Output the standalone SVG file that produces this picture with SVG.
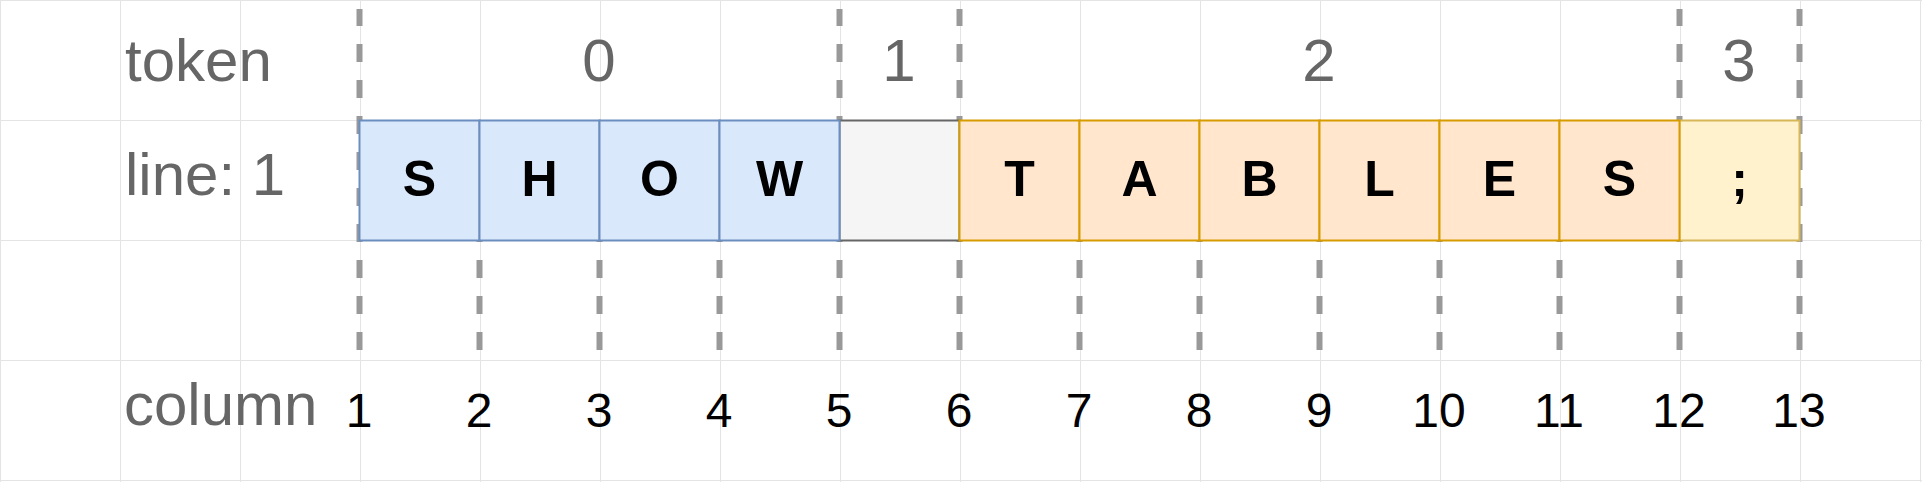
<svg xmlns="http://www.w3.org/2000/svg" width="1922" height="482" viewBox="0 0 1922 482">
<defs>
<pattern id="minor" width="30" height="30" patternUnits="userSpaceOnUse">
<path d="M30.5 0V30M0 30.5H30" fill="none" stroke="#f0f0f0" stroke-width="1"/>
</pattern>
<pattern id="major" width="120" height="120" patternUnits="userSpaceOnUse">
<path d="M0.5 0V120M0 0.5H120" fill="none" stroke="#e4e4e4" stroke-width="1"/>
</pattern>
</defs>
<style>
.lbl{font-family:"Liberation Sans",Arial,sans-serif;font-size:60px;fill:#666666}
.tok{font-family:"Liberation Sans",Arial,sans-serif;font-size:60px;fill:#666666;text-anchor:middle}
.col{font-family:"Liberation Sans",Arial,sans-serif;font-size:48px;fill:#000000;text-anchor:middle}
.ch{font-family:"Liberation Sans",Arial,sans-serif;font-size:50px;font-weight:bold;fill:#000000;text-anchor:middle}
.dash{stroke:#999999;stroke-width:6;stroke-dasharray:18 18;fill:none}
.blue{fill:#dae8fc;stroke:#6c8ebf;stroke-width:2}
.gray{fill:#f5f5f5;stroke:#666666;stroke-width:2}
.orange{fill:#ffe6cc;stroke:#d79b00;stroke-width:2}
.yellow{fill:#fff2cc;stroke:#d6b656;stroke-width:2}
</style>
<rect width="1922" height="482" fill="#ffffff"/>
<rect width="1922" height="482" fill="url(#minor)"/>
<rect width="1922" height="482" fill="url(#major)"/>
<g id="connectors">
<line class="dash" x1="359.5" y1="350" x2="359.5" y2="9"/>
<line class="dash" x1="839.5" y1="350" x2="839.5" y2="9"/>
<line class="dash" x1="959.5" y1="350" x2="959.5" y2="9"/>
<line class="dash" x1="1679.5" y1="350" x2="1679.5" y2="9"/>
<line class="dash" x1="1799.5" y1="350" x2="1799.5" y2="9"/>
<line class="dash" x1="479.5" y1="350" x2="479.5" y2="130"/>
<line class="dash" x1="599.5" y1="350" x2="599.5" y2="130"/>
<line class="dash" x1="719.5" y1="350" x2="719.5" y2="130"/>
<line class="dash" x1="1079.5" y1="350" x2="1079.5" y2="130"/>
<line class="dash" x1="1199.5" y1="350" x2="1199.5" y2="130"/>
<line class="dash" x1="1319.5" y1="350" x2="1319.5" y2="130"/>
<line class="dash" x1="1439.5" y1="350" x2="1439.5" y2="130"/>
<line class="dash" x1="1559.5" y1="350" x2="1559.5" y2="130"/>
</g>
<g id="labels">
<text class="lbl" x="125" y="81">token</text>
<text class="lbl" x="125" y="195">line: 1</text>
<text class="lbl" x="124" y="425">column</text>
</g>
<g id="tokens">
<text class="tok" x="599" y="81">0</text>
<text class="tok" x="899" y="81">1</text>
<text class="tok" x="1319" y="81">2</text>
<text class="tok" x="1739" y="81">3</text>
</g>
<g id="cell-space"><rect class="gray" x="839.5" y="120.5" width="120" height="120"/></g>
<g id="cell-semicolon"><rect class="yellow" x="1679.5" y="120.5" width="120" height="120"/><text class="ch" x="1739.5" y="196">;</text></g>
<g id="cell-S1"><rect class="blue" x="359.5" y="120.5" width="120" height="120"/><text class="ch" x="419.5" y="196">S</text></g>
<g id="cell-H"><rect class="blue" x="479.5" y="120.5" width="120" height="120"/><text class="ch" x="539.5" y="196">H</text></g>
<g id="cell-O"><rect class="blue" x="599.5" y="120.5" width="120" height="120"/><text class="ch" x="659.5" y="196">O</text></g>
<g id="cell-W"><rect class="blue" x="719.5" y="120.5" width="120" height="120"/><text class="ch" x="779.5" y="196">W</text></g>
<g id="cell-T"><rect class="orange" x="959.5" y="120.5" width="120" height="120"/><text class="ch" x="1019.5" y="196">T</text></g>
<g id="cell-A"><rect class="orange" x="1079.5" y="120.5" width="120" height="120"/><text class="ch" x="1139.5" y="196">A</text></g>
<g id="cell-B"><rect class="orange" x="1199.5" y="120.5" width="120" height="120"/><text class="ch" x="1259.5" y="196">B</text></g>
<g id="cell-L"><rect class="orange" x="1319.5" y="120.5" width="120" height="120"/><text class="ch" x="1379.5" y="196">L</text></g>
<g id="cell-E"><rect class="orange" x="1439.5" y="120.5" width="120" height="120"/><text class="ch" x="1499.5" y="196">E</text></g>
<g id="cell-S2"><rect class="orange" x="1559.5" y="120.5" width="120" height="120"/><text class="ch" x="1619.5" y="196">S</text></g>
<g id="columns">
<text class="col" x="359" y="427">1</text>
<text class="col" x="479" y="427">2</text>
<text class="col" x="599" y="427">3</text>
<text class="col" x="719" y="427">4</text>
<text class="col" x="839" y="427">5</text>
<text class="col" x="959" y="427">6</text>
<text class="col" x="1079" y="427">7</text>
<text class="col" x="1199" y="427">8</text>
<text class="col" x="1319" y="427">9</text>
<text class="col" x="1439" y="427">10</text>
<text class="col" x="1559" y="427">11</text>
<text class="col" x="1679" y="427">12</text>
<text class="col" x="1799" y="427">13</text>
</g>
</svg>
